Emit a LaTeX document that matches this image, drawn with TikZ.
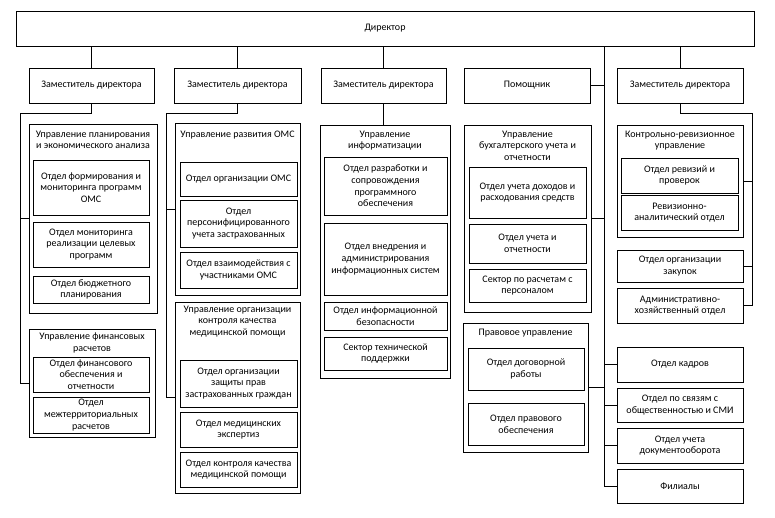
\documentclass[tikz,border=0pt]{standalone}
\usepackage{fontspec}
\setmainfont{Carlito}
\tikzset{
  box/.style={draw, line width=0.7pt, inner sep=0pt, align=center,
    font=\fontsize{10}{11.7}\selectfont},
  ttl/.style={inner sep=0pt, align=center, anchor=north,
    font=\fontsize{10}{11.7}\selectfont},
  conn/.style={line width=0.7pt}
}
\newcommand\bx[6]{%
  \node[box, minimum width={#4-#2}, minimum height={#5-#3}] (#1)
    at ({(#2+#4)/2},{(#3+#5)/2}) {#6};}
\newcommand\grp[7]{%
  \node[box, minimum width={#4-#2}, minimum height={#5-#3}] (#1)
    at ({(#2+#4)/2},{(#3+#5)/2}) {};
  \node[ttl, yshift={-(#6)*1pt}] (#1t) at (#1.north) {#7};}
\begin{document}
\begin{tikzpicture}[x=1pt,y=-1pt]
\useasboundingbox[fill=white] (0,0) rectangle (775,517);
% top
\bx{dir}{16}{11}{754}{46}{Директор}
\bx{d1}{29}{68}{154}{103}{Заместитель директора}
\bx{d2}{174}{68}{301}{103}{Заместитель директора}
\bx{d3}{321}{68}{446}{103}{Заместитель директора}
\bx{d4}{464}{68}{590}{103}{Помощник}
\bx{d5}{617}{68}{743}{103}{Заместитель директора}
% column 1
\grp{g1a}{29}{124}{157}{313}{7}{Управление планирования\\и экономического анализа}
\bx{b1a1}{33}{160}{149}{215}{Отдел формирования и\\мониторинга программ\\ОМС}
\bx{b1a2}{33}{222}{149}{267}{Отдел мониторинга\\реализации целевых\\программ}
\bx{b1a3}{33}{276}{149}{303}{Отдел бюджетного\\планирования}
\grp{g1b}{29}{329}{155}{437}{4}{Управление финансовых\\расчетов}
\bx{b1b1}{33}{357}{149}{392}{Отдел финансового\\обеспечения и\\отчетности}
\bx{b1b2}{33}{397}{149}{433}{Отдел\\межтерриториальных\\расчетов}
% column 2
\grp{g2a}{175}{123}{300}{295}{8}{Управление развития ОМС}
\bx{b2a1}{180}{162}{297}{196}{Отдел организации ОМС}
\bx{b2a2}{180}{200}{297}{247}{Отдел\\персонифицированного\\учета застрахованных}
\bx{b2a3}{180}{252}{297}{288}{Отдел взаимодействия с\\участниками ОМС}
\grp{g2b}{175}{302}{300}{493}{4}{Управление организации\\контроля качества\\медицинской помощи}
\bx{b2b1}{180}{360}{297}{407}{Отдел организации\\защиты прав\\застрахованных граждан}
\bx{b2b2}{180}{412}{297}{447}{Отдел медицинских\\экспертиз}
\bx{b2b3}{180}{452}{297}{487}{Отдел контроля качества\\медицинской помощи}
% column 3
\grp{g3}{320}{125}{450}{378}{6}{Управление\\информатизации}
\bx{b31}{324}{157}{447}{215}{Отдел разработки и\\сопровождения\\программного\\обеспечения}
\bx{b32}{324}{223}{447}{295}{Отдел внедрения и\\администрирования\\информационных систем}
\bx{b33}{324}{302}{447}{330}{Отдел информационной\\безопасности}
\bx{b34}{324}{337}{447}{370}{Сектор технической\\поддержки}
% column 4
\grp{g4a}{464}{125}{591}{312}{6}{Управление\\бухгалтерского учета и\\отчетности}
\bx{b4a1}{469}{167}{586}{218}{Отдел учета доходов и\\расходования средств}
\bx{b4a2}{469}{224}{586}{263}{Отдел учета и\\отчетности}
\bx{b4a3}{469}{269}{586}{302}{Сектор по расчетам с\\персоналом}
\grp{g4b}{463}{323}{588}{452}{6}{Правовое управление}
\bx{b4b1}{468}{348}{584}{390}{Отдел договорной\\работы}
\bx{b4b2}{468}{403}{584}{445}{Отдел правового\\обеспечения}
% column 5
\grp{g5a}{617}{125}{743}{237}{6}{Контрольно-ревизионное\\управление}
\bx{b5a1}{621}{158}{738}{193}{Отдел ревизий и\\проверок}
\bx{b5a2}{621}{195}{738}{230}{Ревизионно-\\аналитический отдел}
\bx{zak}{617}{250}{743}{282}{Отдел организации\\закупок}
\bx{aho}{617}{288}{743}{323}{Административно-\\хозяйственный отдел}
\bx{kadr}{617}{347}{743}{382}{Отдел кадров}
\bx{smi}{617}{388}{743}{422}{Отдел по связям с\\общественностью и СМИ}
\bx{doc}{617}{428}{743}{463}{Отдел учета\\документооборота}
\bx{fil}{617}{469}{743}{503}{Филиалы}
% connectors from director
\draw[conn] (d1.north |- dir.south) -- (d1.north);
\draw[conn] (d2.north |- dir.south) -- (d2.north);
\draw[conn] (d3.north |- dir.south) -- (d3.north);
\draw[conn] (d5.north |- dir.south) -- (d5.north);
\coordinate (v4top) at (604,46);
\coordinate (v4bot) at (604,486);
\draw[conn] (v4top) -- (v4bot);
\draw[conn] (d4.east) -- (d4.east -| v4top);
\draw[conn] (g4a.east) -- (g4a.east -| v4top);
\draw[conn] (g4b.east) -- (g4b.east -| v4top);
\draw[conn] (kadr.west) -- (kadr.west -| v4top);
\draw[conn] (smi.west) -- (smi.west -| v4top);
\draw[conn] (doc.west) -- (doc.west -| v4top);
\draw[conn] (fil.west) -- (fil.west -| v4top);
% column 1 bus
\coordinate (c1) at (20,113);
\draw[conn] (d1.south) |- (c1) |- (g1b.west);
\draw[conn] (g1a.west) -- (g1a.west -| c1);
% column 2 bus
\coordinate (c2) at (166,113);
\draw[conn] (d2.south) |- (c2) |- (g2b.west);
\draw[conn] (g2a.west) -- (g2a.west -| c2);
% column 3
\draw[conn] (d3.south) -- (d3.south |- g3.north);
% column 5 bus
\coordinate (c5) at (752,113);
\draw[conn] (d5.south) |- (c5) |- (aho.east);
\draw[conn] (g5a.east) -- (g5a.east -| c5);
\draw[conn] (zak.east) -- (zak.east -| c5);
\end{tikzpicture}
\end{document}
